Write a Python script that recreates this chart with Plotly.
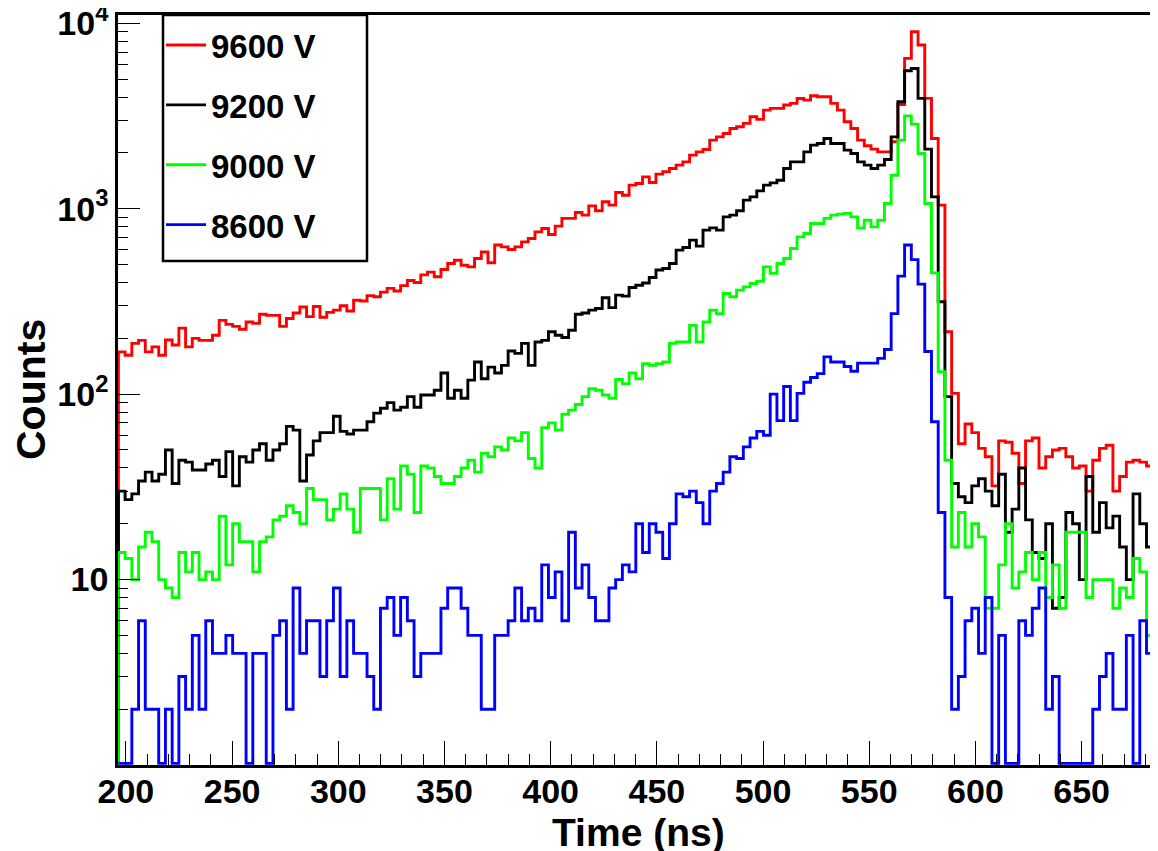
import numpy as np
import plotly.graph_objects as go

# time binning of the histograms (ns)
T_START = 196.47
BIN_WIDTH = 3.164

red = [169, 162, 188, 195, 169, 180, 162, 196, 184, 227,
       180, 200, 195, 195, 208, 250, 238, 232, 224, 245,
       241, 270, 266, 266, 232, 256, 274, 295, 262, 297,
       260, 276, 284, 300, 281, 321, 318, 340, 335, 355,
       372, 360, 385, 410, 400, 440, 455, 430, 470, 507,
       528, 496, 486, 539, 585, 511, 637, 623, 603, 623,
       663, 691, 750, 783, 727, 806, 887, 887, 955, 924,
       1037, 975, 1091, 1046, 1224, 1183, 1341, 1368, 1485, 1386,
       1537, 1583, 1650, 1719, 1791, 1946, 2027, 2088, 2345, 2443,
       2547, 2711, 2768, 2887, 3134, 3035, 3405, 3478, 3478, 3625,
       3700, 3936, 3855, 4066, 4020, 4020, 3700, 3405, 2945, 2711,
       2345, 2186, 2097, 2027, 2027, 2300, 3650, 6470, 9010, 7640,
       3940, 2395, 1046, 217, 101, 54, 69, 62, 51, 46,
       32, 56, 55, 48, 33, 56, 58, 40, 46, 50,
       51, 46, 40, 41, 30, 44, 51, 53, 30, 36,
       43, 44, 43, 41, 38]

black = [30, 27, 29, 34, 38, 34, 37, 50, 33, 44,
         43, 39, 39, 42, 44, 36, 49, 32, 46, 43,
         50, 54, 44, 50, 54, 67, 64, 34, 47, 56,
         62, 62, 76, 63, 61, 64, 64, 71, 79, 84,
         90, 82, 85, 97, 85, 99, 99, 105, 130, 95,
         105, 95, 119, 149, 121, 140, 130, 143, 171, 166,
         188, 143, 191, 195, 217, 208, 202, 221, 270, 274,
         284, 290, 331, 293, 342, 338, 376, 387, 398, 426,
         467, 476, 507, 598, 618, 677, 629, 767, 789, 767,
         904, 924, 975, 1113, 1159, 1249, 1341, 1379, 1426, 1650,
         1791, 1791, 2027, 2203, 2250, 2395, 2250, 2250, 2070, 1987,
         1791, 1719, 1650, 1719, 1845, 2443, 3776, 5550, 5710, 3940,
         2097, 1159, 315, 97, 33, 28, 26, 32, 35, 30,
         25, 37, 18, 24, 40, 21, 14, 13, 20, 7,
         8, 23, 20, 10, 36, 18, 26, 19, 22, 15,
         10, 29, 20, 15, 11]

green = [14, 13, 10, 15, 18, 16, 10, 9, 8, 14,
         11, 14, 10, 11, 10, 22, 12, 20, 16, 16,
         11, 16, 17, 21, 22, 25, 23, 20, 31, 27,
         27, 21, 24, 29, 24, 18, 31, 31, 31, 21,
         35, 24, 41, 37, 23, 41, 40, 36, 33, 33,
         36, 40, 44, 38, 48, 46, 52, 50, 58, 56,
         62, 45, 40, 66, 70, 64, 78, 82, 88, 97,
         107, 105, 99, 95, 120, 114, 130, 121, 146, 143,
         146, 149, 188, 191, 191, 235, 191, 245, 284, 272,
         349, 335, 364, 379, 395, 406, 486, 448, 507, 539,
         611, 705, 736, 833, 833, 887, 924, 935, 944, 904,
         789, 867, 799, 867, 1068, 1517, 2345, 3170, 2862, 1987,
         1068, 451, 132, 44, 15, 23, 15, 20, 17, 7,
         7, 12, 20, 9, 11, 14, 10, 14, 8, 12,
         7, 18, 18, 18, 8, 10, 10, 10, 7, 9,
         8, 13, 11, 5, 5]

blue = [0, 0, 2, 6, 2, 2, 0, 2, 0, 3,
        2, 5, 2, 6, 4, 4, 5, 4, 4, 0,
        4, 4, 0, 5, 6, 2, 9, 4, 6, 6,
        3, 6, 9, 3, 6, 4, 4, 3, 2, 7,
        8, 5, 8, 6, 3, 4, 4, 4, 7, 9,
        9, 7, 5, 5, 2, 2, 5, 5, 6, 9,
        6, 7, 6, 12, 8, 11, 6, 18, 9, 12,
        8, 6, 6, 9, 10, 12, 11, 20, 14, 20,
        18, 13, 20, 29, 28, 30, 26, 20, 30, 33,
        38, 46, 45, 52, 58, 63, 60, 100, 72, 110,
        72, 101, 116, 123, 129, 159, 149, 149, 141, 133,
        147, 147, 147, 156, 174, 272, 433, 637, 532, 392,
        170, 71, 23, 8, 2, 3, 6, 7, 4, 8,
        0, 5, 0, 0, 6, 5, 7, 9, 2, 3,
        0, 0, 0, 0, 0, 2, 3, 4, 2, 2,
        5, 0, 6, 4, 5]

series = [
    ("9600 V", red, "#ff0000"),
    ("9200 V", black, "#000000"),
    ("9000 V", green, "#00ff00"),
    ("8600 V", blue, "#0000ff"),
]

x_ticks = [200, 250, 300, 350, 400, 450, 500, 550, 600, 650]
y_ticks = [10, 100, 1000, 10000]
y_ticktext = ["10", "10<sup>2</sup>", "10<sup>3</sup>", "10<sup>4</sup>"]

edges = T_START + BIN_WIDTH * np.arange(len(red) + 1)
FLOOR = 1.02  # empty bins sit on the bottom of the log axis, like ROOT draws them


def step_xy(counts):
    ys = [max(c, FLOOR) for c in counts]
    x = [edges[0]] + list(edges)
    y = [FLOOR] + ys + [ys[-1]]
    return x, y


fig = go.Figure()
for name, counts, color in series:
    x, y = step_xy(counts)
    fig.add_trace(go.Scatter(
        x=x, y=y, name=name, mode="lines",
        line=dict(color=color, width=2.9, shape="hv"),
        legendgroup=name,
    ))

minor_y = [m * 10 ** e for e in range(0, 4) for m in range(2, 10)]

# the page body adds an 8px offset, so the figure is a bit smaller than the window
PLOT_W, PLOT_H = 1039, 750


def px_x(px):
    return (px - 118) / PLOT_W


def px_y(py):
    return (765 - py) / PLOT_H


tick_font = dict(family="Liberation Sans Narrow, Liberation Sans, Arial", size=34, weight="bold")

fig.update_layout(
    width=1150, height=843,
    margin=dict(l=110, r=1, t=7, b=86),
    paper_bgcolor="white", plot_bgcolor="white",
    font=dict(family="Liberation Sans, Arial, sans-serif", color="black", weight="bold"),
    legend=dict(
        x=px_x(161), y=px_y(17), xanchor="left", yanchor="top",
        borderwidth=0, bgcolor="rgba(0,0,0,0)",
        font=dict(size=33, weight="bold"),
        traceorder="grouped", tracegroupgap=14, itemwidth=40,
    ),
    shapes=[
        dict(type="rect", xref="paper", yref="paper",
             x0=px_x(163), x1=px_x(367), y0=px_y(261), y1=1,
             line=dict(color="black", width=2.5), fillcolor="white", layer="below"),
        dict(type="line", xref="paper", yref="paper", x0=1, x1=1, y0=0, y1=1,
             line=dict(color="#b0b0b0", width=1)),
    ],
    annotations=[
        dict(text="Time (ns)", x=px_x(638), y=px_y(832), xref="paper", yref="paper",
             showarrow=False, font=dict(size=39, weight="bold"), yanchor="middle"),
        dict(text="Counts", x=px_x(31), y=0.5, xref="paper", yref="paper",
             showarrow=False, textangle=-90, font=dict(size=41, weight="bold"),
             xanchor="center", yanchor="middle"),
    ],
)

fig.update_xaxes(
    range=[196.28, 685.5], tickvals=x_ticks, automargin=False,
    ticks="inside", ticklen=24, tickwidth=1, tickcolor="black",
    showline=True, linewidth=2.5, linecolor="black", mirror=True,
    showgrid=False, zeroline=False,
    tickfont=tick_font, ticklabelstandoff=-6, ticklabeloverflow="allow",
    minor=dict(ticks="inside", ticklen=11, tick0=200, dtick=10, tickcolor="black", showgrid=False),
)
fig.update_yaxes(
    type="log", range=[0, 4.045], tickvals=y_ticks, ticktext=y_ticktext, automargin=False,
    ticks="inside", ticklen=22, tickwidth=1, tickcolor="black",
    showline=True, linewidth=2.5, linecolor="black",
    showgrid=False, zeroline=False,
    tickfont=tick_font, ticklabelstandoff=0, ticklabeloverflow="allow",
    minor=dict(ticks="inside", ticklen=10, tickvals=minor_y, tickcolor="black", showgrid=False),
)

fig.write_html("out.html")
